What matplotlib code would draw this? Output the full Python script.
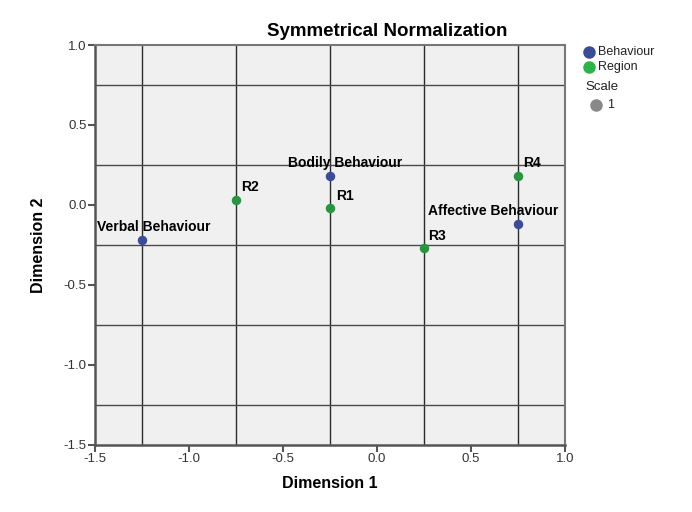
import matplotlib.pyplot as plt
from matplotlib.lines import Line2D

plt.rcParams['font.family'] = ['Liberation Sans', 'DejaVu Sans']

# row points (Behaviour) and column points (Region)
behaviour_names = ['Verbal Behaviour', 'Bodily Behaviour', 'Affective Behaviour']
behaviour_x = [-1.25, -0.25, 0.75]
behaviour_y = [-0.22, 0.18, -0.12]

region_names = ['R1', 'R2', 'R3', 'R4']
region_x = [-0.25, -0.75, 0.25, 0.75]
region_y = [-0.02, 0.03, -0.27, 0.18]

ref_x = [-1.25, -0.75, -0.25, 0.25, 0.75]
ref_y = [0.75, 0.25, -0.25, -0.75, -1.25]
ticks = [-1.5, -1.0, -0.5, 0.0, 0.5, 1.0]

legend_names = ['Behaviour', 'Region']
scale_label = '1'

# label offsets in pixels (left edge, vertical centre)
behaviour_off = [(-45, 13), (-42, 13), (-90, 13)]
region_off = [(6, 12), (5, 13), (4, 12), (5, 13)]

blue = '#3b4c96'
green = '#2a9440'

fig = plt.figure(figsize=(6.92, 5.12), dpi=100)
ax = fig.add_axes([0.1373, 0.1309, 0.6792, 0.7812])
ax.set_facecolor('#f0f0f0')

for x in ref_x:
    ax.axvline(x, color='#2b2b2b', lw=1.0, zorder=1)
for y in ref_y:
    ax.axhline(y, color='#4a4a4a', lw=1.0, zorder=1)

ax.scatter(behaviour_x, behaviour_y, s=34, color=blue, zorder=3)
ax.scatter(region_x, region_y, s=34, color=green, zorder=3)

for name, x, y, off in zip(behaviour_names, behaviour_x, behaviour_y, behaviour_off):
    ax.annotate(name, (x, y), xytext=off, textcoords='offset pixels',
                ha='left', va='center', fontsize=10, fontweight='bold', zorder=4)
for name, x, y, off in zip(region_names, region_x, region_y, region_off):
    ax.annotate(name, (x, y), xytext=off, textcoords='offset pixels',
                ha='left', va='center', fontsize=10, fontweight='bold', zorder=4)

ax.set_xlim(-1.5, 1.0)
ax.set_ylim(-1.5, 1.0)
ax.set_xticks(ticks)
ax.set_yticks(ticks)
ax.set_xticklabels(['%.1f' % t for t in ticks])
ax.set_yticklabels(['%.1f' % t for t in ticks])
ax.tick_params(direction='out', length=5, width=1.5, color='#555555',
               labelsize=9.5, labelcolor='#333333', pad=1)
for s in ['top', 'right']:
    ax.spines[s].set_color('#777777')
    ax.spines[s].set_linewidth(1.5)
for s in ['left', 'bottom']:
    ax.spines[s].set_color('#555555')
    ax.spines[s].set_linewidth(1.8)

ax.set_xlabel('Dimension 1', fontsize=11.5, fontweight='bold', labelpad=8)
ax.set_ylabel('Dimension 2', fontsize=11.5, fontweight='bold', labelpad=13)
fig.text(0.559, 0.9375, 'Symmetrical Normalization', fontsize=13.5,
         fontweight='bold', ha='center', va='center')

# legend on the right
for name, col, y in zip(legend_names, [blue, '#2fb24c'], [0.8984, 0.8691]):
    fig.add_artist(Line2D([0.8512], [y], marker='o', ls='', color=col,
                          markersize=8, transform=fig.transFigure))
    fig.text(0.8642, y, name, fontsize=9, va='center', color='#222222')
fig.text(0.8454, 0.8301, 'Scale', fontsize=9.5, va='center', color='#222222')
fig.add_artist(Line2D([0.8613], [0.7949], marker='o', ls='', color='#888888',
                      markersize=8, transform=fig.transFigure))
fig.text(0.8772, 0.7949, scale_label, fontsize=9, va='center', color='#222222')

fig.savefig('out.png', dpi=100, facecolor='white')
